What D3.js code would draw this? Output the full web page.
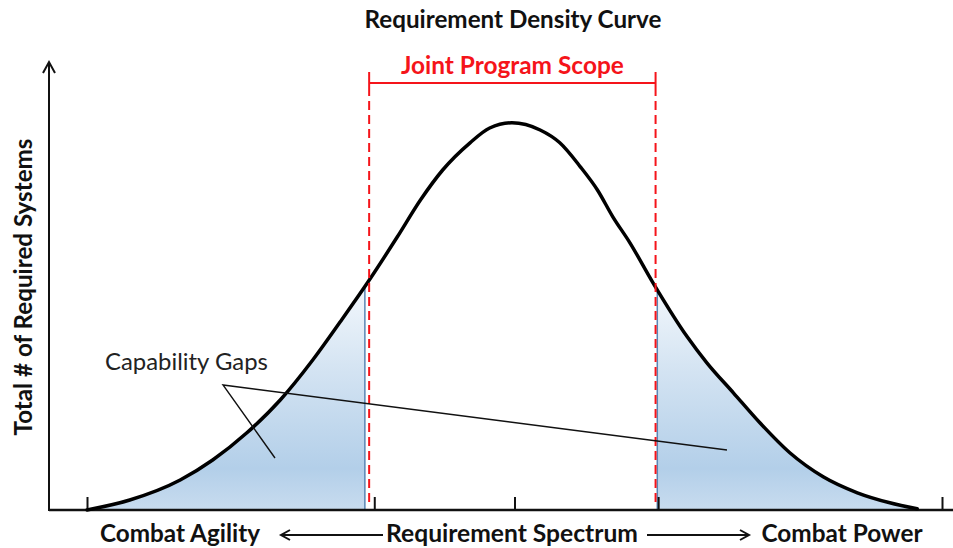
<!DOCTYPE html>
<html lang="en">
<head>
<meta charset="UTF-8">
<script src="https://d3js.org/d3.v7.min.js"></script>
<title>Requirement Density Curve</title>
<style>
  body { margin: 0; background: #fff; }
  text { font-family: Lato, "Open Sans", sans-serif; }
</style>
</head>
<body>
<svg id="chart" width="953" height="548"></svg>
<script>
// curve: position on the spectrum (0-100) and relative density (0-100)
const spectrum = [0, 5.0, 10.9, 14.7, 18.7, 22.6, 26.4, 29.6, 32.8, 36.3, 39.0, 41.6, 44.8, 47.1, 49.7,
                  53.0, 55.3, 57.7, 59.7, 61.5, 63.5, 66.2, 70.2, 72.5, 75.6, 78.7, 82.2, 86.1, 90.1, 93.9, 97.1];
const density  = [0, 2.5, 7.5, 12.5, 19.3, 27.5, 37.5, 47, 56.8, 68.3, 77.5, 85, 91.8, 95.5, 96.8,
                  95, 91.8, 85.8, 80, 73.3, 66.8, 56.8, 43.3, 36.8, 29.3, 21.8, 14.3, 8.3, 4.3, 1.8, 0.3];
const scopeRange = [33, 66.5];        // joint program scope
const gapEdges = [32.5, 66.7];        // where the shaded gaps stop / start
const tickValues = [0, 33.6, 50, 66.8, 100];
const titleText = "Requirement Density Curve";
const scopeText = "Joint Program Scope";
const yLabel = "Total # of Required Systems";
const bottomLabels = ["Combat Agility", "Requirement Spectrum", "Combat Power"];
const gapLabel = "Capability Gaps";

const points = spectrum.map((s, i) => ({s: s, d: density[i]}));

const svg = d3.select("#chart");
const x = d3.scaleLinear().domain([0, 100]).range([87, 942]);
const y = d3.scaleLinear().domain([0, 100]).range([510, 110]);

// density at an arbitrary spot on the spectrum (for the gap edges)
function densityAt(s) {
  const i = d3.bisector(p => p.s).left(points, s);
  const a = points[Math.max(i - 1, 0)], b = points[Math.min(i, points.length - 1)];
  if (a === b) return a.d;
  return a.d + (b.d - a.d) * (s - a.s) / (b.s - a.s);
}

// add a text and scale its font so it spans the given width
function label(str, px, py, width, opts) {
  const t = svg.append("text")
    .attr("x", px).attr("y", py)
    .attr("text-anchor", opts.anchor || "middle")
    .attr("font-weight", opts.weight || "bold")
    .attr("fill", opts.fill || "#111")
    .attr("font-size", 20)
    .text(str);
  if (opts.rotate) t.attr("transform", "rotate(" + opts.rotate + "," + px + "," + py + ")");
  const len = t.node().getComputedTextLength();
  t.attr("font-size", (20 * width / len).toFixed(2));
  return t;
}

const defs = svg.append("defs");
const grad = defs.append("linearGradient").attr("id", "gapFill")
  .attr("gradientUnits", "userSpaceOnUse")
  .attr("x1", 0).attr("x2", 0).attr("y1", 280).attr("y2", 510);
grad.append("stop").attr("offset", 0).attr("stop-color", "#f5f9fd");
grad.append("stop").attr("offset", 0.4).attr("stop-color", "#d3e3f2");
grad.append("stop").attr("offset", 0.82).attr("stop-color", "#b3cfe9");
grad.append("stop").attr("offset", 1).attr("stop-color", "#c8dcef");

defs.append("clipPath").attr("id", "clipLeft").append("rect")
  .attr("x", x(0) - 5).attr("y", 0)
  .attr("width", x(gapEdges[0]) - x(0) + 5).attr("height", 548);
defs.append("clipPath").attr("id", "clipRight").append("rect")
  .attr("x", x(gapEdges[1])).attr("y", 0)
  .attr("width", 953 - x(gapEdges[1])).attr("height", 548);

const area = d3.area().x(d => x(d.s)).y0(y(0)).y1(d => y(d.d)).curve(d3.curveMonotoneX);
const line = d3.line().x(d => x(d.s)).y(d => y(d.d)).curve(d3.curveMonotoneX);

// shaded capability gaps
["clipLeft", "clipRight"].forEach(id => {
  svg.append("path").datum(points)
    .attr("d", area)
    .attr("clip-path", "url(#" + id + ")")
    .attr("fill", "url(#gapFill)")
    .attr("stroke", "#4f7fb0")
    .attr("stroke-width", 1);
});
gapEdges.forEach(g => {
  svg.append("line")
    .attr("x1", x(g)).attr("x2", x(g))
    .attr("y1", y(0)).attr("y2", y(densityAt(g)))
    .attr("stroke", "#5a86b4").attr("stroke-width", 1.5);
});

// x axis
svg.append("line")
  .attr("x1", 49).attr("x2", 953).attr("y1", y(0)).attr("y2", y(0))
  .attr("stroke", "#111").attr("stroke-width", 2.5);
const xAxis = svg.append("g").attr("transform", "translate(0," + y(0) + ")")
  .call(d3.axisBottom(x).tickValues(tickValues).tickSize(-13).tickFormat(""));
xAxis.select(".domain").remove();
xAxis.selectAll(".tick line").attr("stroke", "#111").attr("stroke-width", 2);

// y axis with arrow
svg.append("line")
  .attr("x1", 49).attr("x2", 49).attr("y1", y(0) + 1).attr("y2", 62)
  .attr("stroke", "#111").attr("stroke-width", 2);
svg.append("path")
  .attr("d", "M43,73 L49,62 L55,73")
  .attr("fill", "none").attr("stroke", "#111").attr("stroke-width", 2);

// density curve
svg.append("path").datum(points)
  .attr("d", line)
  .attr("fill", "none")
  .attr("stroke", "#000")
  .attr("stroke-width", 3.5)
  .attr("stroke-linecap", "round");

// joint program scope
const red = "#f5141a";
scopeRange.forEach(s => {
  svg.append("line")
    .attr("x1", x(s)).attr("x2", x(s)).attr("y1", 101).attr("y2", 505)
    .attr("stroke", red).attr("stroke-width", 2).attr("stroke-dasharray", "9,5");
  svg.append("line")
    .attr("x1", x(s)).attr("x2", x(s)).attr("y1", 72).attr("y2", 96)
    .attr("stroke", red).attr("stroke-width", 2);
});
svg.append("line")
  .attr("x1", x(scopeRange[0])).attr("x2", x(scopeRange[1]))
  .attr("y1", 83).attr("y2", 83)
  .attr("stroke", red).attr("stroke-width", 2);
label(scopeText, (x(scopeRange[0]) + x(scopeRange[1])) / 2, 74, 223, {fill: red});

// title and axis labels
label(titleText, 513, 28, 297, {});
label(yLabel, 32, 287, 297, {rotate: -90});
label(bottomLabels[0], 180, 542, 160, {});
label(bottomLabels[1], 512, 542, 252, {});
label(bottomLabels[2], 842, 542, 161, {});

svg.append("path").attr("d", "M383,535 L281,535 M290,530 L281,535 L290,540")
  .attr("fill", "none").attr("stroke", "#111").attr("stroke-width", 2);
svg.append("path").attr("d", "M647,535 L749,535 M740,530 L749,535 L740,540")
  .attr("fill", "none").attr("stroke", "#111").attr("stroke-width", 2);

// capability gaps callout
label(gapLabel, 105, 370, 163, {anchor: "start", weight: "normal", fill: "#222"});
svg.append("path")
  .attr("d", "M275,458 L223,385 L727,450")
  .attr("fill", "none").attr("stroke", "#111").attr("stroke-width", 1.4);
</script>
</body>
</html>
